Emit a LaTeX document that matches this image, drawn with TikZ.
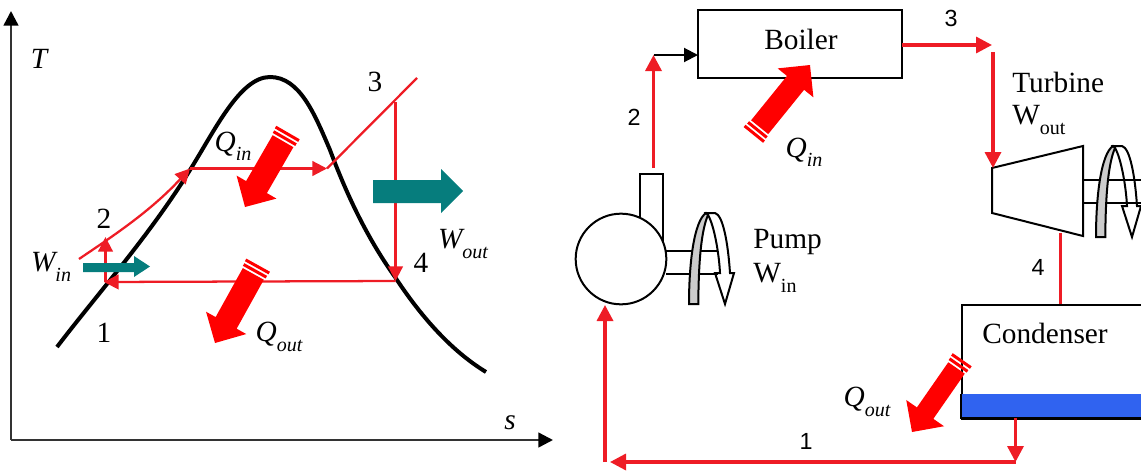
\documentclass[tikz,border=0pt]{standalone}
\usepackage{fontspec}
\setmainfont{Liberation Serif}
\newfontfamily\labelsans{Liberation Sans}
\usetikzlibrary{arrows.meta}
\definecolor{cyclered}{HTML}{EE1C25}
\definecolor{fatred}{HTML}{FF0000}
\definecolor{tealblock}{HTML}{067D7D}
\definecolor{bandblue}{HTML}{3063F0}
\definecolor{axisgray}{HTML}{333333}
\newcommand{\lowsub}[1]{\raisebox{-.32em}{\fontsize{15}{15}\selectfont #1}}
% tip x, tip y, pointing angle, overall length, body half width
\newcommand{\fatarrow}[5]{%
  \begin{scope}[shift={(#1,#2)},rotate=#3]
    \fill[fatred] (0,0) -- (-23,23) -- (-23,#5) -- (-#4+10,#5) -- (-#4+10,-#5) -- (-23,-#5) -- (-23,-23) -- cycle;
    \fill[fatred] (-#4+8,-#5-1) rectangle (-#4+5,#5+1);
    \fill[fatred] (-#4+3,-#5-1.5) rectangle (-#4,#5+1.5);
  \end{scope}}
\newcommand{\spinback}[2]{%
  \begin{scope}[shift={(#1,#2)}]
    \draw[devline,fill=white] (17,0) -- (26,0) .. controls (34,2) and (39,30) .. (41,60) -- (45,60) -- (36,91) -- (26,60) -- (31,60) .. controls (30,40) and (25,12) .. (19,2) -- cycle;
  \end{scope}}
\newcommand{\spinfront}[2]{%
  \begin{scope}[shift={(#1,#2)}]
    \draw[devline,fill=black!20] (0,91) .. controls (0,50) and (5,8) .. (17,0) -- (19,2) .. controls (11,20) and (9.5,60) .. (9.3,91) -- cycle;
  \end{scope}}
\tikzset{
  cycleline/.style={draw=cyclered,line width=1.7pt,-{Triangle[length=11pt,width=11pt]}},
  cycleplain/.style={draw=cyclered,line width=1.7pt},
  flowline/.style={draw=cyclered,line width=2.5pt,-{Triangle[length=12pt,width=12pt]}},
  flowplain/.style={draw=cyclered,line width=2.5pt},
  devline/.style={draw=black,line width=1.5pt,line join=miter},
  axisline/.style={draw=axisgray,line width=1.8pt,-{Triangle[length=11pt,width=11pt,color=black]}},
  dome/.style={draw=black,line width=3pt},
  serifbig/.style={inner sep=0pt,font=\fontsize{22}{24}\selectfont},
  mathlabel/.style={inner sep=0pt,font=\fontsize{22}{24}\selectfont\itshape},
  digitsans/.style={inner sep=0pt,font=\labelsans\fontsize{17.5}{19}\selectfont},
  teal/.style={fill=tealblock},
}
\begin{document}
\begin{tikzpicture}[x=0.75pt,y=-0.75pt]
\useasboundingbox (0,0) rectangle (1141,471);
\clip (0,0) rectangle (1141,471);
% ---- T-s diagram
\coordinate (origin) at (11,440);
\coordinate (ttop) at (11,11);
\coordinate (send) at (553,440);
\draw[axisline] (origin) -- (ttop);
\draw[axisline] (origin) -- (send);
\draw[dome] (57,347) .. controls (95,297) and (150,235) .. (190,170) .. controls (215,130) and (240,77) .. (270,77) .. controls (300,77) and (315,115) .. (330,150) .. controls (345,190) and (365,235) .. (395,277) .. controls (420,315) and (450,350) .. (486,372);
\coordinate (s1) at (104,282);
\coordinate (s1b) at (105.5,282);
\coordinate (s2) at (105.5,237);
\coordinate (s2s) at (79,259);
\coordinate (s2e) at (190,168.5);
\coordinate (s3a) at (327,168.5);
\coordinate (s3t) at (417,78);
\coordinate (s3b) at (395.5,102);
\coordinate (s4) at (395.5,281);
\draw[cycleline] (s1b) -- (s2);
\draw[cycleline] (s2s) .. controls (110,238) and (150,212) .. (s2e);
\draw[cycleline] (s2e) -- (s3a);
\draw[cycleplain] (s3a) -- (s3t);
\draw[cycleline] (s3b) -- (s4);
\draw[cycleline] (s4) -- (s1);
\fatarrow{245}{207}{-120}{86}{12}
\fatarrow{215}{343}{-119}{89}{12}
\fill[teal] (373,180) -- (441,180) -- (441,169) -- (463,191) -- (441,213) -- (441,203) -- (373,203) -- cycle;
\fill[teal] (83,263) -- (134,263) -- (134,256) -- (150,266.5) -- (134,277) -- (134,272) -- (83,272) -- cycle;
\node[mathlabel] (tlabel) at (39,59) {T};
\node[mathlabel] (slabel) at (510,423) {s};
\node[mathlabel] (winL) at (51,267) {W\lowsub{in}};
\node[mathlabel] (qinL) at (233,146) {Q\lowsub{in}};
\node[mathlabel] (qoutL) at (279,337) {Q\lowsub{out}};
\node[mathlabel] (woutL) at (463,244) {W\lowsub{out}};
\node[serifbig] (n1L) at (104,333) {1};
\node[serifbig] (n2L) at (104,219) {2};
\node[serifbig] (n3L) at (375,82) {3};
\node[serifbig] (n4L) at (421,263) {4};
% ---- plant: boiler
\node[devline,draw,minimum width=153pt,minimum height=51pt,inner sep=0pt] (boiler) at (800,43.8) {};
\node[serifbig] (boilertext) at (801,39) {Boiler};
\coordinate (p2low) at (653.5,168);
\coordinate (p2top) at (653.5,55);
\coordinate (boilerin) at (698,55);
\coordinate (boilerout) at (902,45);
\coordinate (p3) at (992,45);
\draw[flowline] (p2low) -- (p2top);
\draw[devline,-{Triangle[length=10.5pt,width=10.5pt]}] (p2top) -- (boilerin);
\draw[flowline] (boilerout) -- (p3);
\fatarrow{810}{65}{51}{90}{11}
\node[digitsans] (n2R) at (634,117) {2};
\node[digitsans] (n3R) at (951,18) {3};
\node[mathlabel] (qinR) at (804,152) {Q\lowsub{in}};
% ---- pump
\spinback{689}{213}
\draw[devline] (666,251) -- (718,251);
\draw[devline] (666,274) -- (718,274);
\draw[devline,fill=white] (640,225) -- (640,174) -- (663,174) -- (663,250);
\node[devline,draw,fill=white,circle,minimum size=68pt,inner sep=0pt] (pump) at (621,259) {};
\spinfront{689}{213}
\node[serifbig,anchor=west] (pumptext) at (753,242) {Pump};
\node[serifbig,anchor=west] (wintext) at (753,278) {W\lowsub{in}};
% ---- turbine
\spinback{1096}{146}
\draw[devline] (1083,180) -- (1145,180);
\draw[devline] (1083,202.5) -- (1145,202.5);
\draw[devline,fill=white] (992,168) -- (1083,146) -- (1083,236) -- (992,213) -- cycle;
\spinfront{1096}{146}
\coordinate (p3d) at (993,52);
\coordinate (turbinein) at (993,168);
\draw[flowline] (p3d) -- (turbinein);
\node[serifbig,anchor=west] (turbinetext) at (1012,82) {Turbine};
\node[serifbig,anchor=west] (wouttext) at (1012,120) {W\lowsub{out}};
% ---- condenser
\coordinate (turbineout) at (1060.5,233);
\coordinate (condin) at (1060.5,304);
\draw[flowplain] (turbineout) -- (condin);
\node[digitsans] (n4R) at (1038,267) {4};
\node[devline,draw,fill=white,minimum width=147pt,minimum height=85.5pt,inner sep=0pt,anchor=north west] (condenser) at (960.5,304) {};
\fill[bandblue] (960.5,394) rectangle (1145,417);
\draw[devline] (960.5,394) -- (960.5,417.5) -- (1145,417.5);
\node[serifbig] (condtext) at (1045,333) {Condenser};
\fatarrow{912}{432}{-124.8}{88}{10}
\node[mathlabel] (qoutR) at (867,402) {Q\lowsub{out}};
\coordinate (condout) at (1015.5,418);
\coordinate (p1r) at (1015.5,462);
\coordinate (p1l) at (610,462);
\coordinate (p1c) at (605,462);
\coordinate (pumpin) at (605,305);
\draw[flowline] (condout) -- (p1r);
\draw[flowline] (p1r) -- (p1l);
\draw[flowline] (p1c) -- (pumpin);
\node[digitsans] (n1R) at (806,441) {1};
\end{tikzpicture}
\end{document}
